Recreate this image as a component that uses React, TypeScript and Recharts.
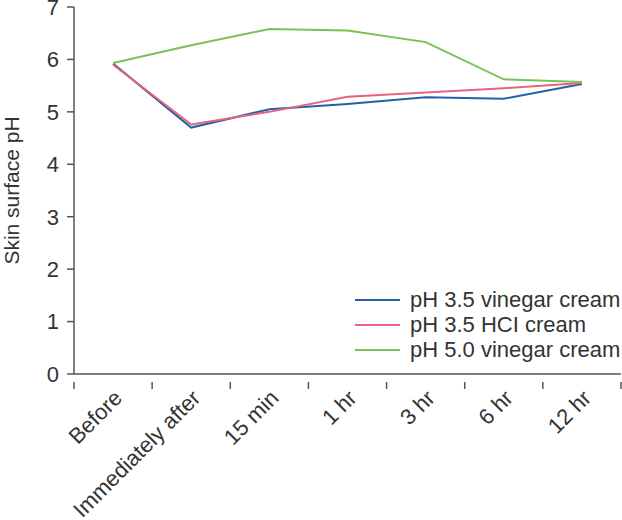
import { ComposedChart, Line, XAxis, YAxis } from "recharts";

const timepoints = ["Before", "Immediately after", "15 min", "1 hr", "3 hr", "6 hr", "12 hr"];
const vinegar35 = [5.92, 4.7, 5.05, 5.15, 5.28, 5.25, 5.53];
const hcl35 = [5.9, 4.76, 5.0, 5.29, 5.37, 5.45, 5.55];
const vinegar50 = [5.93, 6.27, 6.58, 6.55, 6.33, 5.62, 5.57];
const yTicks = [0, 1, 2, 3, 4, 5, 6, 7];

const seriesInfo = [
  { key: "v35", name: "pH 3.5 vinegar cream", color: "#2162a6" },
  { key: "h35", name: "pH 3.5 HCI cream", color: "#e8637b" },
  { key: "v50", name: "pH 5.0 vinegar cream", color: "#78c257" },
];

const data = timepoints.map((t, i) => ({ t, v35: vinegar35[i], h35: hcl35[i], v50: vinegar50[i] }));

const W = 622;
const H = 520;
const LEFT = 74;
const RIGHT = 1;
const TOP = 7;
const XH = 146;
const BAND = (W - LEFT - RIGHT) / timepoints.length;
const AXIS = "#555";
const FONT = "'Liberation Sans', Arial, sans-serif";
const FS = 22;

const XTick = (props: any) => {
  const { x, y, payload, index } = props;
  const last = index === timepoints.length - 1;
  return (
    <g>
      <line x1={x - BAND / 2} x2={x - BAND / 2} y1={y} y2={y + 7} stroke={AXIS} strokeWidth={1.5} />
      {last && <line x1={x + BAND / 2} x2={x + BAND / 2} y1={y} y2={y + 7} stroke={AXIS} strokeWidth={1.5} />}
      <text
        transform={`translate(${x + 5},${y + 12}) rotate(-45)`}
        textAnchor="end"
        dy="0.35em"
        fontSize={FS}
        fill="#333"
        fontFamily={FONT}
      >
        {payload.value}
      </text>
    </g>
  );
};

const YLabel = () => (
  <text
    transform={`translate(12,${TOP + (H - TOP - XH) / 2}) rotate(-90)`}
    textAnchor="middle"
    dy="0.35em"
    fontSize={21}
    fill="#333"
    fontFamily={FONT}
  >
    Skin surface pH
  </text>
);

export default function App() {
  return (
    <div style={{ position: "absolute", left: 0, top: 0, width: W, height: H, background: "#fff", overflow: "hidden" }}>
      <ComposedChart width={W} height={H} data={data} margin={{ top: TOP, right: RIGHT, left: 0, bottom: 0 }}>
        <XAxis
          dataKey="t"
          scale="band"
          height={XH}
          interval={0}
          tickLine={false}
          axisLine={{ stroke: AXIS, strokeWidth: 1.5 }}
          tick={<XTick />}
        />
        <YAxis
          width={LEFT}
          domain={[0, 7]}
          ticks={yTicks}
          interval={0}
          tickSize={7}
          tickMargin={8}
          axisLine={{ stroke: AXIS, strokeWidth: 1.5 }}
          tickLine={{ stroke: AXIS, strokeWidth: 1.5 }}
          tick={{ fontSize: FS, fill: "#333", fontFamily: FONT }}
          label={<YLabel />}
        />
        {seriesInfo.map((s) => (
          <Line
            key={s.key}
            dataKey={s.key}
            name={s.name}
            type="linear"
            stroke={s.color}
            strokeWidth={2}
            dot={false}
            isAnimationActive={false}
          />
        ))}
      </ComposedChart>
      <div
        style={{
          position: "absolute",
          left: 355,
          top: 287,
          fontFamily: FONT,
          fontSize: FS,
          color: "#333",
          lineHeight: "25px",
        }}
      >
        {seriesInfo.map((s) => (
          <div key={s.key} style={{ display: "flex", alignItems: "center", whiteSpace: "nowrap" }}>
            <span style={{ display: "inline-block", width: 45, height: 2, background: s.color, marginRight: 10 }} />
            {s.name}
          </div>
        ))}
      </div>
    </div>
  );
}
